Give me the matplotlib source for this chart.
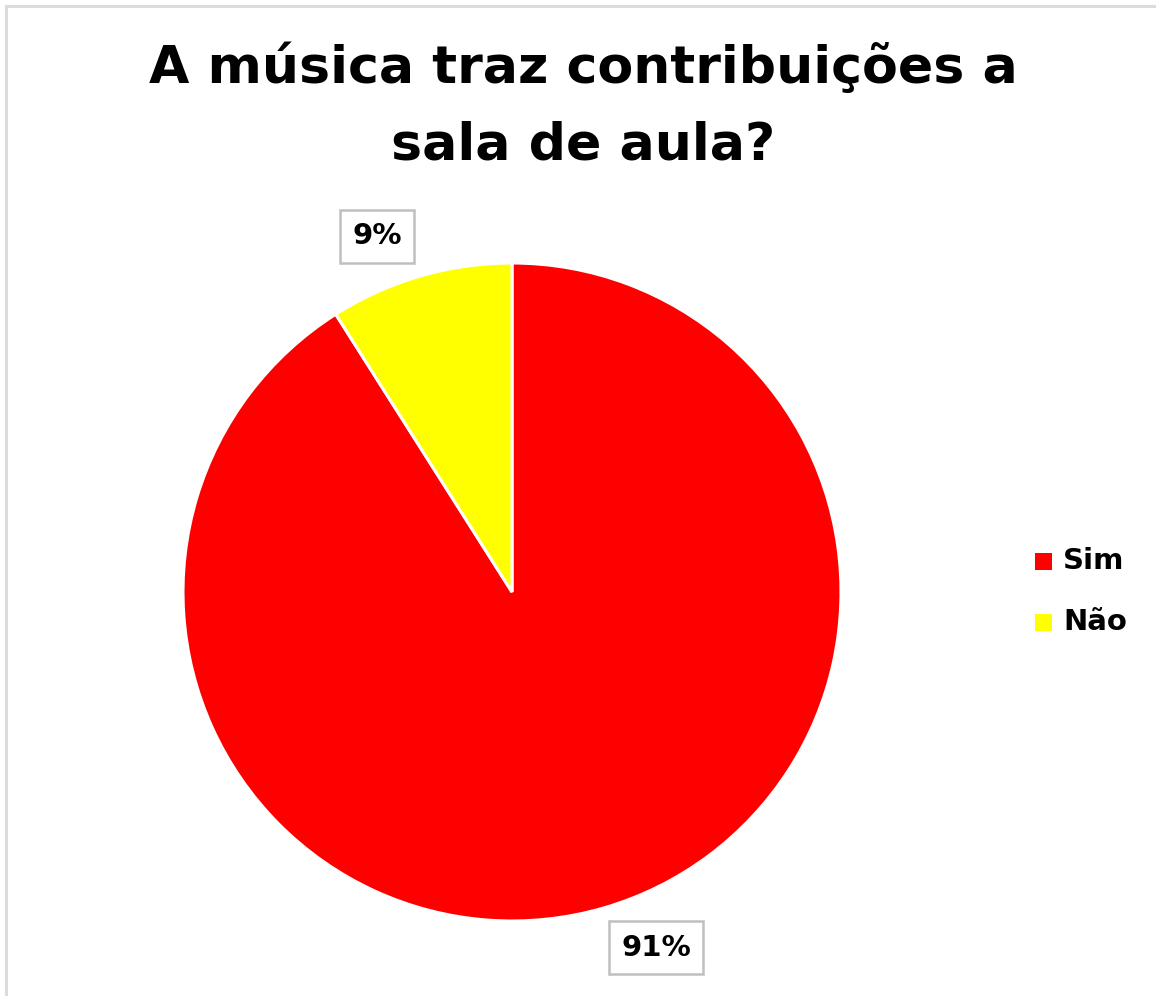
import matplotlib
matplotlib.use("Agg")
import matplotlib.pyplot as plt
from matplotlib.lines import Line2D
from matplotlib.patches import Rectangle

categories = ["Sim", "Não"]
values = [91, 9]
colors = ["#FF0000", "#FFFF00"]
title_lines = ["A música traz contribuições a", "sala de aula?"]

plt.rcParams["font.family"] = ["DejaVu Sans"]

W, H = 1156, 996
fig = plt.figure(figsize=(W / 100, H / 100), dpi=100)
fig.patch.set_facecolor("white")

# light frame along top and left edges
fig.add_artist(Line2D([6 / W, 6 / W], [0, 1 - 6 / H], color="#dcdcdc", lw=2.2,
                      transform=fig.transFigure))
fig.add_artist(Line2D([6 / W, 1], [1 - 6 / H, 1 - 6 / H], color="#dcdcdc", lw=2.2,
                      transform=fig.transFigure))

# pie axes: centre (512, 592) px, radius 329 px
cx, cy, r = 512, 592, 329
ax = fig.add_axes([(cx - r) / W, (H - cy - r) / H, 2 * r / W, 2 * r / H])
wedges, _ = ax.pie(values, colors=colors, startangle=90, counterclock=False,
                   radius=1.0, wedgeprops=dict(edgecolor="white", linewidth=2.2))
ax.set_xlim(-1, 1)
ax.set_ylim(-1, 1)
ax.set_aspect("auto")
ax.axis("off")

# percentage labels in boxes
label_pos = {"Sim": (0.438, -1.081), "Não": (-0.41, 1.081)}
for cat, val in zip(categories, values):
    x, y = label_pos[cat]
    ax.text(x, y, f"{val}%", ha="center", va="center", fontsize=21,
            fontweight="bold", color="black", clip_on=False,
            bbox=dict(boxstyle="square,pad=0.42", facecolor="white",
                      edgecolor="#bfbfbf", linewidth=1.8))

# title
fig.text(583 / W, 1 - 68 / H, title_lines[0], ha="center", va="center",
         fontsize=37.5, fontweight="bold")
fig.text(583 / W, 1 - 145 / H, title_lines[1], ha="center", va="center",
         fontsize=37.5, fontweight="bold")

# legend
leg_y = [561, 622]
for cat, col, yy in zip(categories, colors, leg_y):
    fig.add_artist(Rectangle(((1035) / W, 1 - (yy + 8.5) / H), 17 / W, 17 / H,
                             facecolor=col, edgecolor="none",
                             transform=fig.transFigure))
    fig.text(1063 / W, 1 - yy / H, cat, ha="left", va="center",
             fontsize=21, fontweight="bold")

fig.savefig("out.png", dpi=100, facecolor="white")
